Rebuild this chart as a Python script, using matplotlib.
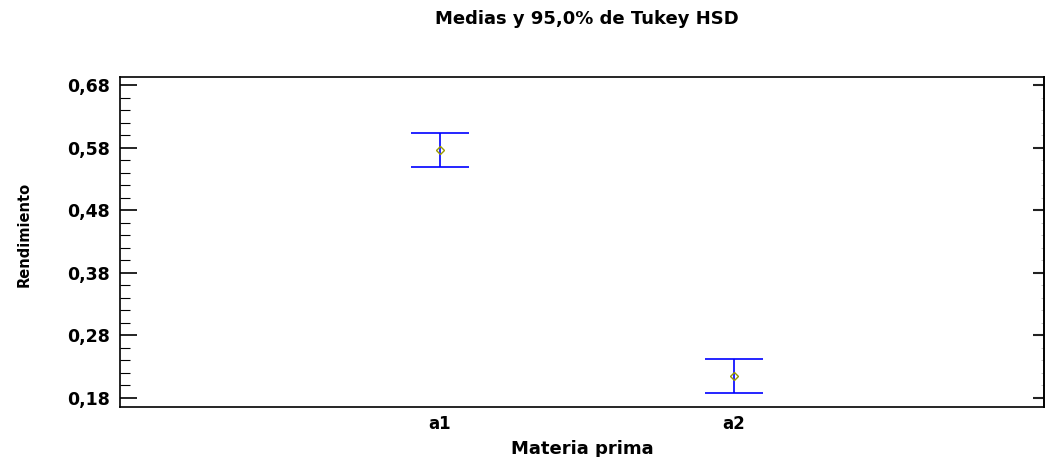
import numpy as np
import matplotlib
matplotlib.use('Agg')
import matplotlib.pyplot as plt
from matplotlib.ticker import FixedLocator, MultipleLocator, FuncFormatter, NullFormatter

plt.rcParams['font.family'] = ['DejaVu Sans']
plt.rcParams['font.weight'] = 'bold'

# data
groups = ['a1', 'a2']
means = [0.576, 0.215]
lower = [0.5485, 0.188]
upper = [0.6038, 0.2423]
yticks = [0.18, 0.28, 0.38, 0.48, 0.58, 0.68]

fig = plt.figure(figsize=(10.45, 4.57), dpi=100)
ax = fig.add_axes([120/1045, 1-407/457, 924/1045, 330/457])

x = np.arange(1, len(groups)+1)
m = np.array(means)
err = [m - np.array(lower), np.array(upper) - m]
ax.errorbar(x, m, yerr=err, fmt='none', ecolor='#0000ff', elinewidth=1.2,
            capsize=21.2, capthick=1.2)
ax.plot(x, m, 'D', ms=4.5, mfc='none', mec='#9a9a00', mew=1)

ax.set_xlim(-0.088, 3.054)
ax.set_ylim(0.1656, 0.6928)
ax.set_xticks(x)
ax.set_xticklabels(groups, fontsize=12, fontweight='bold')
fmt = FuncFormatter(lambda v, p: ('%.2f' % v).replace('.', ','))
ax.yaxis.set_major_locator(FixedLocator(yticks))
ax.yaxis.set_minor_locator(MultipleLocator(0.02))
ax.yaxis.set_major_formatter(fmt)
for lab in ax.get_yticklabels():
    lab.set_fontweight('bold')
    lab.set_fontsize(12.5)
ax.tick_params(axis='y', which='major', direction='in', length=12, width=1.2,
               left=True, right=False, pad=7)
ax.tick_params(axis='y', which='minor', direction='in', length=7, width=0.8,
               left=True, right=False)
ax.tick_params(axis='x', length=0, pad=6)
for s in ax.spines.values():
    s.set_linewidth(1.2)

# right side ticks are shorter
sec = ax.secondary_yaxis('right')
sec.yaxis.set_major_locator(FixedLocator(yticks))
sec.yaxis.set_minor_locator(MultipleLocator(0.02))
sec.yaxis.set_major_formatter(NullFormatter())
sec.tick_params(which='major', direction='in', length=8, width=1.5, color='#222222')
sec.tick_params(which='minor', direction='in', length=2, width=0.6, color='#bbbbbb')
sec.spines['right'].set_linewidth(1.2)

ax.set_xlabel('Materia prima', fontsize=13, fontweight='bold', labelpad=5)
ax.set_ylabel('Rendimiento', fontsize=10.5, fontweight='bold', va='center')
ax.yaxis.set_label_coords(-0.104, 0.524)
fig.text(587/1045, 1-19/457, 'Medias y 95,0% de Tukey HSD', ha='center', va='center',
         fontsize=13, fontweight='bold')

fig.savefig('out.png', dpi=100)
